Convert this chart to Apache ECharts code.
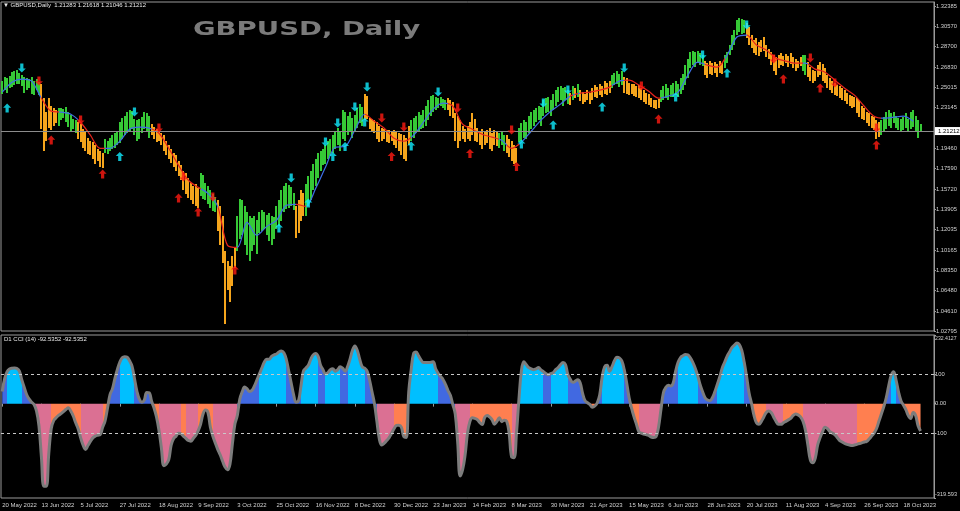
<!DOCTYPE html>
<html><head><meta charset="utf-8">
<script src="https://cdn.jsdelivr.net/npm/echarts@6/dist/echarts.min.js"></script>
<style>html,body{margin:0;padding:0;background:#000;}#c{width:960px;height:511px;}</style>
</head><body><div id="c"></div>
<script>
// ---------------- DATA ----------------
const startDate = [2022, 4, 20];          // 20 May 2022 (first daily bar)
const totalSlots = 381;                    // 376 bars + right shift
const labelEvery = 16;

const highs = [
1.256,1.259,1.258,1.260,1.264,1.265,1.266,1.263,1.261,1.259,
1.258,1.257,1.259,1.256,1.257,1.255,1.253,1.240,1.227,1.240,
1.233,1.231,1.229,1.231,1.231,1.230,1.232,1.227,1.225,1.221,
1.220,1.218,1.216,1.212,1.209,1.204,1.201,1.200,1.197,1.194,
1.192,1.190,1.203,1.201,1.204,1.206,1.208,1.210,1.218,1.222,
1.224,1.227,1.229,1.228,1.221,1.220,1.221,1.223,1.227,1.226,
1.224,1.216,1.214,1.212,1.210,1.208,1.206,1.201,1.197,1.194,
1.190,1.188,1.183,1.179,1.174,1.172,1.167,1.163,1.160,1.162,
1.158,1.172,1.170,1.163,1.160,1.156,1.153,1.150,1.147,1.142,
1.133,1.101,1.092,1.087,1.096,1.104,1.133,1.148,1.147,1.142,
1.136,1.133,1.131,1.133,1.129,1.136,1.138,1.136,1.134,1.135,
1.133,1.132,1.142,1.147,1.156,1.160,1.163,1.161,1.159,1.154,
1.142,1.147,1.156,1.154,1.162,1.169,1.174,1.180,1.185,1.190,
1.192,1.194,1.197,1.201,1.203,1.206,1.210,1.213,1.209,1.229,
1.227,1.224,1.227,1.222,1.225,1.231,1.235,1.232,1.244,1.242,
1.222,1.221,1.220,1.218,1.215,1.213,1.212,1.211,1.211,1.210,
1.211,1.209,1.208,1.207,1.206,1.204,1.215,1.220,1.222,1.224,
1.227,1.225,1.229,1.233,1.238,1.242,1.243,1.241,1.240,1.241,
1.239,1.238,1.240,1.238,1.236,1.226,1.224,1.220,1.215,1.212,
1.215,1.218,1.226,1.221,1.213,1.210,1.212,1.209,1.211,1.213,
1.208,1.211,1.209,1.208,1.209,1.206,1.206,1.203,1.201,1.197,
1.195,1.213,1.217,1.220,1.218,1.224,1.227,1.229,1.231,1.233,
1.232,1.238,1.240,1.241,1.238,1.244,1.247,1.250,1.251,1.249,
1.250,1.247,1.245,1.251,1.249,1.253,1.247,1.246,1.244,1.247,
1.245,1.249,1.252,1.250,1.253,1.251,1.256,1.254,1.256,1.261,
1.263,1.265,1.262,1.265,1.259,1.258,1.254,1.253,1.253,1.251,
1.252,1.249,1.247,1.245,1.244,1.240,1.238,1.238,1.239,1.247,
1.251,1.253,1.249,1.252,1.254,1.256,1.253,1.258,1.262,1.270,
1.276,1.282,1.283,1.282,1.283,1.281,1.279,1.274,1.272,1.274,
1.272,1.273,1.271,1.274,1.272,1.279,1.282,1.288,1.297,1.302,
1.311,1.313,1.312,1.311,1.308,1.305,1.297,1.293,1.295,1.291,
1.293,1.296,1.288,1.285,1.282,1.279,1.277,1.279,1.281,1.278,
1.280,1.278,1.281,1.277,1.276,1.274,1.277,1.279,1.279,1.273,
1.268,1.266,1.265,1.270,1.273,1.271,1.267,1.261,1.258,1.256,
1.254,1.252,1.251,1.249,1.247,1.245,1.243,1.242,1.241,1.240,
1.238,1.233,1.231,1.227,1.226,1.224,1.223,1.220,1.218,1.220,
1.223,1.227,1.229,1.226,1.227,1.224,1.222,1.221,1.223,1.226,
1.221,1.227,1.229,1.224,1.220,1.21618];

const lows = [
1.244,1.247,1.245,1.249,1.250,1.252,1.253,1.253,1.251,1.245,
1.247,1.249,1.244,1.243,1.247,1.243,1.212,1.192,1.201,1.213,
1.211,1.215,1.217,1.215,1.220,1.222,1.218,1.214,1.209,1.212,
1.208,1.203,1.200,1.195,1.192,1.189,1.188,1.185,1.180,1.183,
1.177,1.176,1.190,1.189,1.192,1.194,1.195,1.197,1.199,1.203,
1.206,1.208,1.210,1.212,1.206,1.201,1.203,1.208,1.212,1.209,
1.204,1.206,1.203,1.200,1.201,1.197,1.192,1.188,1.185,1.181,
1.177,1.174,1.169,1.165,1.156,1.153,1.149,1.147,1.144,1.142,
1.140,1.151,1.148,1.147,1.144,1.140,1.137,1.136,1.119,1.106,
1.090,1.034,1.065,1.054,1.069,1.085,1.101,1.112,1.115,1.106,
1.097,1.092,1.101,1.106,1.098,1.117,1.119,1.121,1.115,1.110,
1.106,1.112,1.121,1.124,1.128,1.136,1.139,1.140,1.142,1.138,
1.113,1.117,1.128,1.133,1.133,1.142,1.147,1.156,1.160,1.167,
1.174,1.179,1.180,1.185,1.188,1.190,1.194,1.197,1.192,1.203,
1.201,1.206,1.209,1.204,1.210,1.213,1.217,1.215,1.220,1.221,
1.212,1.210,1.208,1.203,1.200,1.201,1.203,1.200,1.199,1.201,
1.197,1.195,1.192,1.188,1.185,1.183,1.197,1.201,1.204,1.208,
1.210,1.212,1.213,1.215,1.220,1.224,1.227,1.229,1.231,1.233,
1.231,1.229,1.229,1.224,1.222,1.201,1.195,1.201,1.203,1.200,
1.203,1.201,1.206,1.201,1.200,1.197,1.194,1.197,1.199,1.194,
1.192,1.197,1.196,1.195,1.197,1.192,1.190,1.186,1.183,1.180,
1.181,1.200,1.201,1.204,1.203,1.208,1.212,1.215,1.218,1.220,
1.215,1.224,1.226,1.227,1.224,1.229,1.233,1.236,1.238,1.233,
1.238,1.235,1.234,1.238,1.240,1.241,1.237,1.235,1.236,1.238,
1.235,1.238,1.241,1.240,1.243,1.241,1.244,1.243,1.245,1.249,
1.252,1.253,1.250,1.252,1.245,1.244,1.243,1.244,1.242,1.241,
1.240,1.238,1.236,1.235,1.234,1.232,1.231,1.230,1.231,1.236,
1.238,1.240,1.238,1.241,1.241,1.243,1.241,1.244,1.247,1.252,
1.258,1.267,1.270,1.268,1.272,1.270,1.269,1.261,1.258,1.262,
1.261,1.263,1.259,1.263,1.262,1.267,1.272,1.279,1.284,1.288,
1.297,1.300,1.298,1.299,1.295,1.288,1.286,1.281,1.279,1.278,
1.282,1.283,1.277,1.276,1.270,1.265,1.261,1.267,1.270,1.269,
1.272,1.268,1.271,1.267,1.265,1.267,1.269,1.265,1.261,1.259,
1.256,1.254,1.256,1.259,1.261,1.256,1.254,1.249,1.247,1.245,
1.243,1.242,1.240,1.238,1.237,1.235,1.233,1.231,1.232,1.226,
1.223,1.221,1.220,1.217,1.215,1.213,1.211,1.203,1.205,1.206,
1.209,1.212,1.215,1.213,1.217,1.213,1.211,1.209,1.211,1.213,
1.209,1.212,1.214,1.210,1.204,1.21046];

// trend colour of each bar, as runs: G = up (green), O = down (orange)
const trendRuns = [[16,'G'],[7,'O'],[8,'G'],[11,'O'],[19,'G'],[20,'O'],[7,'G'],[8,'O'],[24,'G'],[4,'O'],
  [24,'G'],[19,'O'],[15,'G'],[21,'O'],[3,'G'],[5,'O'],[21,'G'],[1,'O'],[1,'G'],[1,'O'],[1,'G'],[13,'O'],
  [5,'G'],[15,'O'],[18,'G'],[8,'O'],[9,'G'],[23,'O'],[2,'G'],[30,'O'],[17,'G']];

// moving average, read every 4th bar
const maStep = 4;
const maValues = [
1.2454,1.2545,1.2573,1.2554,1.2399,1.2281,1.2272,1.2253,1.2180,1.2062,
1.1943,1.1943,1.2007,1.2117,1.2135,1.2126,1.2080,1.1943,1.1788,1.1652,
1.1588,1.1533,1.1414,1.1059,1.1040,1.1268,1.1150,1.1232,1.1287,1.1423,
1.1433,1.1414,1.1578,1.1770,1.1952,1.1961,1.2107,1.2253,1.2189,1.2126,
1.2035,1.2007,1.2062,1.2180,1.2299,1.2354,1.2326,1.2162,1.2117,1.2071,
1.2044,1.2016,1.1943,1.1998,1.2098,1.2199,1.2281,1.2345,1.2418,1.2445,
1.2454,1.2472,1.2500,1.2554,1.2563,1.2518,1.2463,1.2399,1.2418,1.2454,
1.2609,1.2728,1.2700,1.2682,1.2791,1.2956,1.2974,1.2883,1.2837,1.2764,
1.2737,1.2718,1.2718,1.2664,1.2636,1.2563,1.2490,1.2427,1.2326,1.2235,
1.2217,1.2226,1.2235,1.2189];

// signal arrows: [bar index, price]
const cyanUp = [[2,1.2309],[48,1.1868],[113,1.1217],[125,1.1445],[135,1.1868],[140,1.1959],[148,1.2183],
  [167,1.1964],[212,1.1982],[225,1.2155],[245,1.2319],[275,1.2410],[296,1.2629]];
const cyanDown = [[8,1.2674],[54,1.2273],[118,1.1672],[132,1.2000],[137,1.2173],[144,1.2319],[149,1.2501],
  [178,1.2455],[221,1.2355],[231,1.2474],[254,1.2674],[286,1.2793],[304,1.3066]];
const redDown = [[15,1.2556],[32,1.2200],[64,1.2127],[74,1.1681],[86,1.1499],[155,1.2219],[164,1.2137],
  [186,1.2310],[208,1.2109],[261,1.2510],[315,1.2756],[330,1.2765],[340,1.2537],[357,1.2127]];
const redUp = [[20,1.2018],[41,1.1708],[72,1.1490],[80,1.1363],[95,1.0835],[159,1.1868],[191,1.1896],
  [210,1.1777],[268,1.2209],[319,1.2574],[334,1.2492],[357,1.1973]];

// CCI(14) per bar
const cci = [
41,85,108,117,120,121,119,110,80,55,
30,15,5,-3,-25,-75,-180,-280,-280,-170,
-85,-58,-48,-40,-34,-27,-20,-14,-25,-42,
-65,-85,-115,-140,-155,-142,-128,-116,-110,-107,
-105,-80,-58,-15,30,50,85,115,140,155,
159,157,145,127,85,42,15,5,12,38,
37,8,-15,-45,-90,-150,-210,-205,-190,-140,
-118,-110,-100,-102,-110,-118,-125,-127,-118,-108,
-92,-70,-35,-22,-30,-80,-110,-133,-155,-173,
-195,-215,-224,-205,-135,-70,-40,15,40,56,
50,41,45,60,80,100,120,140,150,150,
160,165,168,175,178,172,150,110,70,30,
5,10,60,110,120,130,150,165,170,160,
130,115,100,105,115,118,110,115,125,120,
110,125,150,180,195,180,150,125,120,110,
80,40,0,-60,-120,-140,-134,-125,-115,-100,
-85,-74,-73,-80,-112,-115,40,115,170,175,
162,148,139,139,139,140,142,118,103,92,
82,65,45,28,-3,-35,-132,-245,-224,-175,
-100,-60,-48,-50,-54,-64,-71,-47,-40,-45,
-54,-70,-60,-48,-61,-56,-60,-100,-180,-183,
-100,14,110,142,132,122,118,115,118,122,
114,108,102,98,102,105,115,122,132,139,
132,98,82,72,76,81,71,35,10,3,
-3,-12,-8,3,30,90,125,130,110,125,
145,157,155,145,115,70,20,-15,-45,-70,
-95,-100,-103,-105,-108,-113,-115,-112,-80,-20,
37,55,62,60,70,110,140,156,162,166,
165,155,140,120,95,64,40,20,12,10,
20,40,65,90,120,140,160,175,190,198,
205,200,180,140,90,35,0,-40,-65,-70,
-60,-45,-30,-25,-30,-45,-60,-70,-70,-65,
-60,-55,-50,-40,-35,-38,-45,-60,-90,-140,
-190,-200,-185,-140,-115,-95,-80,-85,-95,-100,
-105,-115,-125,-130,-135,-138,-140,-142,-140,-138,
-135,-133,-130,-128,-120,-110,-100,-85,-60,-35,
-10,20,60,95,108,80,40,10,-5,-20,
-40,-50,-30,-40,-75,-92.5352];

// CCI histogram colour runs: S deep sky blue, R royal blue, P pale violet red, C coral
const cciRuns = [[2,'R'],[6,'S'],[5,'R'],[7,'P'],[12,'C'],[9,'P'],[2,'C'],[5,'R'],[6,'S'],[8,'R'],[2,'C'],
  [9,'P'],[2,'C'],[5,'P'],[6,'C'],[10,'P'],[9,'R'],[11,'S'],[6,'R'],[7,'S'],[3,'R'],[6,'S'],[3,'R'],[7,'S'],
  [5,'R'],[7,'P'],[6,'C'],[12,'S'],[7,'R'],[6,'P'],[17,'C'],[3,'P'],[10,'S'],[3,'R'],[7,'S'],[9,'R'],[3,'C'],
  [2,'R'],[9,'S'],[3,'R'],[3,'C'],[9,'P'],[7,'R'],[8,'S'],[8,'R'],[11,'S'],[3,'R'],[6,'C'],[7,'P'],[8,'C'],
  [22,'P'],[12,'C'],[2,'R'],[2,'S'],[2,'R'],[9,'C']];

const priceTicks = [1.32385,1.30570,1.28700,1.26830,1.25015,1.23145,1.19460,1.17590,1.15720,1.13905,
  1.12035,1.10165,1.08350,1.06480,1.04610,1.02795];
const priceMin = 1.02795, priceMax = 1.32749;
const cciTicks = [232.4127, 100, 0, -100, -319.593];
const cciTickLabels = ['232.4127','100','0.00','-100','-319.593'];
const cciLevels = [100, -100];
const lastPrice = 1.21212;
const headerText = 'GBPUSD,Daily  1.21283 1.21618 1.21046 1.21212';
const cciHeader = 'D1 CCI (14) -92.5352 -92.5352';
const bigTitle = 'GBPUSD, Daily';

// ---------------- BUILD ----------------
const months = ['Jan','Feb','Mar','Apr','May','Jun','Jul','Aug','Sep','Oct','Nov','Dec'];
const cats = [];
{
  const d = new Date(Date.UTC(startDate[0], startDate[1], startDate[2]));
  while (cats.length < totalSlots) {
    const wd = d.getUTCDay();
    if (wd !== 0 && wd !== 6) cats.push(d.getUTCDate() + ' ' + months[d.getUTCMonth()] + ' ' + d.getUTCFullYear());
    d.setUTCDate(d.getUTCDate() + 1);
  }
}
const trend = [];
trendRuns.forEach(([n, c]) => { for (let k = 0; k < n; k++) trend.push(c); });
function runsToPieces(runs, colors) {
  const out = []; let s = 0;
  runs.forEach(([n, c]) => { out.push({ gte: s - 0.5, lt: s + n - 0.5, color: colors[c] }); s += n; });
  return out;
}
const GREEN = '#36c936', ORANGE = '#f5a51c';
const MA_UP = '#3d6fe6', MA_DN = '#e8231c';
const CYAN = '#10ecff', RED = '#ff1a12';
const AXC = '#d2d2d2', FRAME = '#9a9a9a';
const FONT = 'Liberation Sans';
const UP = 'path://M5,0 L10,5 L7,5 L7,11 L3,11 L3,5 L0,5 Z';
const DN = 'path://M3,0 L7,0 L7,6 L10,6 L5,11 L0,6 L3,6 Z';

const barData = highs.map((h, i) => [i, lows[i], h]);
const maData = maValues.map((v, k) => [k * maStep, v]);
const showLabel = (idx) => idx % labelEvery === 0;

const chart = echarts.init(document.getElementById('c'), null, { width: 960, height: 511 });
chart.setOption({
  animation: false,
  backgroundColor: '#000',
  title: [
    { text: '\u25BC ' + headerText, left: 3, top: 2, padding: 0,
      textStyle: { color: '#eaeaea', fontSize: 6, fontWeight: 'normal', fontFamily: FONT } },
    { text: cciHeader, left: 4, top: 336, padding: 0,
      textStyle: { color: '#eaeaea', fontSize: 6, fontWeight: 'normal', fontFamily: FONT } }
  ],
  graphic: [
    { type: 'text', x: 193, y: 21, scaleX: 1.45, silent: true,
      style: { text: bigTitle, fill: '#7b7b7b', font: 'bold 19px "DejaVu Sans"' } }
  ],
  grid: [
    { left: 1, right: 26, top: 2, height: 329, show: true, borderColor: FRAME, borderWidth: 1, outerBoundsMode: 'none' },
    { left: 1, right: 26, top: 335, height: 163, show: true, borderColor: FRAME, borderWidth: 1, outerBoundsMode: 'none' }
  ],
  xAxis: [
    { gridIndex: 0, type: 'category', data: cats, boundaryGap: true, show: false },
    { gridIndex: 1, type: 'category', data: cats, boundaryGap: true,
      axisLine: { show: false },
      axisTick: { show: true, interval: showLabel, alignWithLabel: true, length: 3, lineStyle: { color: FRAME } },
      axisLabel: { interval: showLabel, color: AXC, fontSize: 6, fontFamily: FONT, align: 'left', margin: 4 },
      splitLine: { show: false } }
  ],
  yAxis: [
    { gridIndex: 0, type: 'value', position: 'right', min: priceMin, max: priceMax,
      axisLine: { show: true, lineStyle: { color: FRAME } },
      axisTick: { show: true, customValues: priceTicks, length: 2, lineStyle: { color: FRAME } },
      axisLabel: { customValues: priceTicks, formatter: v => v.toFixed(5), color: AXC, fontSize: 5.8, fontFamily: FONT, margin: 2 },
      splitLine: { show: false } },
    { gridIndex: 1, type: 'value', position: 'right', min: -319.593, max: 232.4127,
      axisLine: { show: true, lineStyle: { color: FRAME } },
      axisTick: { show: true, customValues: cciTicks, length: 2, lineStyle: { color: FRAME } },
      axisLabel: { customValues: cciTicks, color: AXC, fontSize: 5.8, fontFamily: FONT, margin: 1,
        formatter: v => {
          const k = cciTicks.findIndex(t => Math.abs(t - v) < 1e-6);
          const s = k >= 0 ? cciTickLabels[k] : String(v);
          if (k === 0) return '{t|' + s + '}';
          if (k === cciTicks.length - 1) return '{b|' + s + '}';
          return s;
        },
        rich: { t: { padding: [8, 0, 0, 0], fontSize: 5.2, color: AXC, fontFamily: FONT },
                b: { padding: [0, 0, 8, 0], fontSize: 5.6, color: AXC, fontFamily: FONT } } },
      splitLine: { show: false } }
  ],
  visualMap: [
    { type: 'piecewise', show: false, dimension: 0, seriesIndex: 2,
      pieces: runsToPieces(trendRuns, { G: MA_UP, O: MA_DN }) },
    { type: 'piecewise', show: false, dimension: 0, seriesIndex: 7,
      pieces: runsToPieces(cciRuns, { S: '#00bfff', R: '#4169e1', P: '#db7093', C: '#ff7f50' }) }
  ],
  series: [
    { type: 'custom', xAxisIndex: 0, yAxisIndex: 0, data: barData, z: 3, clip: true,
      encode: { x: 0, y: [1, 2] },
      renderItem: (params, api) => {
        const i = api.value(0);
        const lo = api.coord([i, api.value(1)]);
        const hi = api.coord([i, api.value(2)]);
        const left = Math.round(lo[0] - 1);
        const top = Math.round(hi[1]);
        return { type: 'rect',
          shape: { x: left, y: top, width: 2, height: Math.max(1, Math.round(lo[1]) - top) },
          style: { fill: trend[i] === 'G' ? GREEN : ORANGE } };
      } },
    { type: 'line', xAxisIndex: 0, yAxisIndex: 0, data: [], z: 1,
      markLine: { silent: true, symbol: 'none', animation: false,
        lineStyle: { color: '#8c8c8c', width: 1, type: 'solid' },
        label: { show: true, position: 'end', distance: 1, formatter: lastPrice.toFixed(5),
          color: '#000', backgroundColor: '#fff', padding: [1, 3], fontSize: 6, fontFamily: FONT },
        data: [{ yAxis: lastPrice }] } },
    { type: 'line', xAxisIndex: 0, yAxisIndex: 0, data: maData, showSymbol: false, smooth: 0.3, z: 4,
      lineStyle: { width: 1.2 } },
    { type: 'scatter', xAxisIndex: 0, yAxisIndex: 0, data: cyanUp, symbol: UP, symbolSize: [8, 9], z: 5,
      itemStyle: { color: CYAN } },
    { type: 'scatter', xAxisIndex: 0, yAxisIndex: 0, data: cyanDown, symbol: DN, symbolSize: [8, 9], z: 5,
      itemStyle: { color: CYAN } },
    { type: 'scatter', xAxisIndex: 0, yAxisIndex: 0, data: redUp, symbol: UP, symbolSize: [8, 9], z: 5,
      itemStyle: { color: RED } },
    { type: 'scatter', xAxisIndex: 0, yAxisIndex: 0, data: redDown, symbol: DN, symbolSize: [8, 9], z: 5,
      itemStyle: { color: RED } },
    { type: 'line', xAxisIndex: 1, yAxisIndex: 1, data: cci, showSymbol: false, smooth: 0.4, z: 2,
      lineStyle: { width: 0 }, areaStyle: { opacity: 1 } },
    { type: 'line', xAxisIndex: 1, yAxisIndex: 1, data: cci, showSymbol: false, smooth: 0.4, z: 3,
      lineStyle: { width: 3, color: '#7d7d7d' }, itemStyle: { color: '#7d7d7d' },
      markLine: { silent: true, symbol: 'none', animation: false, label: { show: false },
        lineStyle: { color: '#c8c8c8', width: 1, type: [3, 3] },
        data: cciLevels.map(v => ({ yAxis: v })) } }
  ]
});
</script>
</body></html>
